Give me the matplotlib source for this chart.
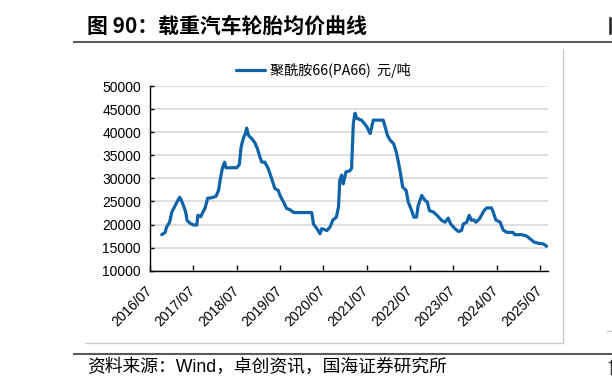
import matplotlib
matplotlib.use('Agg')
import matplotlib.pyplot as plt
import pandas as pd
from matplotlib.lines import Line2D

# ---- data ----
dates = [
    '2016-10-08', '2016-11-06', '2016-11-17', '2016-12-13', '2017-01-01', '2017-01-23',
    '2017-02-14', '2017-03-08', '2017-03-19', '2017-04-09', '2017-04-28', '2017-05-09',
    '2017-06-03', '2017-07-02', '2017-07-31', '2017-08-08', '2017-09-02', '2017-09-20',
    '2017-10-09', '2017-10-30', '2017-12-02', '2018-01-08', '2018-01-30', '2018-02-14',
    '2018-03-04', '2018-03-22', '2018-04-02', '2018-05-19', '2018-07-02', '2018-07-24',
    '2018-08-08', '2018-08-26', '2018-09-13', '2018-09-24', '2018-10-09', '2018-11-06',
    '2018-12-02', '2018-12-24', '2019-01-15', '2019-01-30', '2019-02-24', '2019-03-25',
    '2019-04-23', '2019-05-19', '2019-06-17', '2019-07-02', '2019-07-31', '2019-08-26',
    '2019-09-24', '2019-10-27', '2019-12-17', '2020-02-14', '2020-03-25', '2020-04-09',
    '2020-05-08', '2020-06-03', '2020-06-17', '2020-07-31', '2020-08-26', '2020-09-20',
    '2020-10-19', '2020-11-06', '2020-11-17', '2020-12-02', '2020-12-16', '2021-01-08',
    '2021-02-06', '2021-02-24', '2021-03-11', '2021-03-25', '2021-04-09', '2021-05-19',
    '2021-07-02', '2021-07-31', '2021-08-26', '2021-11-18', '2021-12-24', '2022-01-15',
    '2022-02-14', '2022-03-08', '2022-03-26', '2022-04-13', '2022-05-01', '2022-05-30',
    '2022-06-17', '2022-07-16', '2022-08-03', '2022-08-25', '2022-09-09', '2022-10-08',
    '2022-11-06', '2022-11-24', '2022-12-13', '2023-01-15', '2023-02-14', '2023-03-26',
    '2023-04-24', '2023-05-19', '2023-06-10', '2023-07-16', '2023-08-14', '2023-09-09',
    '2023-09-24', '2023-10-23', '2023-11-13', '2023-12-02', '2023-12-24', '2024-01-08',
    '2024-02-06', '2024-02-24', '2024-03-17', '2024-04-08', '2024-05-18', '2024-06-02',
    '2024-06-24', '2024-07-31', '2024-08-25', '2024-09-24', '2024-11-14', '2024-12-02',
    '2025-01-30', '2025-03-11', '2025-04-09', '2025-05-12', '2025-06-25', '2025-07-31',
    '2025-08-26',
]
pa66_price = [
    17800, 18300, 19400, 20500, 22700, 23800,
    24900, 25900, 25400, 24100, 22700, 20900,
    20300, 19900, 19900, 22000, 21700, 22700,
    23600, 25700, 25800, 26100, 27400, 29900,
    32300, 33500, 32300, 32300, 32300, 33000,
    36800, 38600, 39700, 40900, 39300, 38600,
    37700, 36400, 34500, 33500, 33500, 32100,
    29900, 27800, 27400, 26300, 24900, 23500,
    23200, 22600, 22600, 22600, 22600, 20100,
    19100, 18000, 19100, 18700, 19400, 21000,
    21600, 23800, 29600, 30700, 28800, 31400,
    31600, 32100, 41900, 44100, 43000, 42600,
    41200, 39700, 42600, 42600, 39300, 38300,
    37500, 35700, 33500, 31000, 28100, 27400,
    24900, 23000, 21600, 21600, 24100, 26300,
    25200, 24900, 23000, 22700, 22000, 20900,
    20500, 21400, 20100, 19100, 18500, 18700,
    20100, 20500, 22000, 20900, 21000, 20500,
    21200, 22000, 23000, 23600, 23600, 22700,
    21000, 20500, 18800, 18300, 18300, 17800,
    17800, 17500, 16900, 16200, 15900, 15800,
    15300,
]
tick_years = list(range(2016, 2026))
tick_labels = [f'{y}/07' for y in tick_years]
ytick_values = list(range(10000, 50001, 5000))
series_name = '聚酰胺66(PA66)  元/吨'
title_text = '图 90：载重汽车轮胎均价曲线'
source_text = '资料来源：Wind，卓创资讯，国海证券研究所'

# ---- figure ----
W, H = 612, 390
fig = plt.figure(figsize=(W / 100, H / 100), dpi=100)
fig.patch.set_facecolor('white')


def fx(px):
    return px / W


def fy(py):
    return 1 - py / H


CJK = ['Noto Sans CJK SC', 'DejaVu Sans']
LAT = ['Liberation Sans', 'Noto Sans CJK SC', 'DejaVu Sans']

ax = fig.add_axes([fx(150), fy(270.7), fx(548) - fx(150), fy(86) - fy(270.7)])
x = pd.to_datetime(dates)
ax.plot(x, pa66_price, color='#0E63A9', lw=2.3, solid_joinstyle='round',
        solid_capstyle='round', label=series_name, zorder=3)

ax.set_ylim(10000, 50000)
ax.set_xlim(pd.Timestamp('2016-07-01'), pd.Timestamp('2025-09-07'))
ax.set_yticks(ytick_values)
ax.set_yticklabels([str(v) for v in ytick_values], fontfamily=LAT, fontsize=10)
ax.set_xticks(pd.to_datetime([f'{y}-07-01' for y in tick_years]))
ax.set_xticklabels(tick_labels, rotation=45, ha='right', va='center',
                   rotation_mode='anchor', fontfamily=LAT, fontsize=10)

ax.grid(axis='y', color='#d9d9d9', lw=1.2)
ax.set_axisbelow(True)
for s in ['top', 'right']:
    ax.spines[s].set_visible(False)
for s in ['left', 'bottom']:
    ax.spines[s].set_color('black')
    ax.spines[s].set_linewidth(1.0)
ax.tick_params(axis='y', direction='in', length=3, width=1, pad=6.5, colors='black')
ax.tick_params(axis='x', direction='in', length=4, width=1, pad=13, colors='black')

leg = ax.legend(loc='center', bbox_to_anchor=(fx(323), fy(70)), bbox_transform=fig.transFigure,
                frameon=False, prop={'family': CJK, 'size': 10.2}, handlelength=2.1,
                handletextpad=0.3, borderpad=0, borderaxespad=0)

# ---- page decorations ----
fig.text(fx(87), fy(26), title_text, fontsize=15, fontweight='bold', va='center', ha='left',
         fontfamily=CJK)
fig.add_artist(Line2D([fx(74), 1.0], [fy(42), fy(42)], color='#5a5a5a', lw=1.5))
fig.add_artist(Line2D([fx(85), fx(563)], [fy(343), fy(343)], color='#cccccc', lw=1.0))
fig.add_artist(Line2D([fx(563), fx(563)], [fy(49), fy(343)], color='#cccccc', lw=1.0))
fig.add_artist(Line2D([fx(74), 1.0], [fy(354), fy(354)], color='#5a5a5a', lw=1.5))
fig.text(fx(87), fy(367), source_text, fontsize=12.8, va='center', ha='left', fontfamily=LAT)

# fragments of the neighbouring chart at the right edge (drawn as strokes)
fig.add_artist(Line2D([fx(610), fx(610)], [fy(18), fy(33)], color='#222222', lw=1.8))
fig.add_artist(Line2D([fx(607), 1.0], [fy(331), fy(331)], color='#cccccc', lw=1.0))
fig.add_artist(Line2D([fx(609), 1.0], [fy(362), fy(362)], color='#333333', lw=1.0))
fig.add_artist(Line2D([fx(610.5), fx(610.5)], [fy(360), fy(374)], color='#333333', lw=1.0))

fig.savefig('out.png', dpi=100)
